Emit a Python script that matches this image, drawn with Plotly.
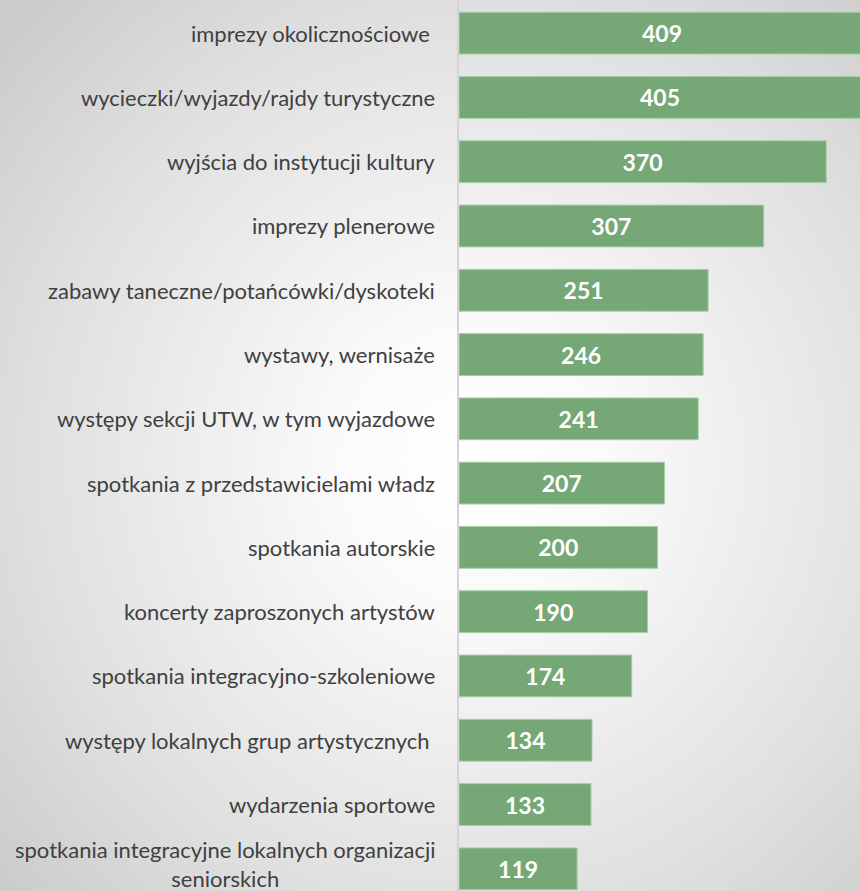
import base64
import plotly.graph_objects as go

# categories from top to bottom, as in the chart
categories = [
    "imprezy okolicznościowe\u00a0",
    "wycieczki/wyjazdy/rajdy turystyczne",
    "wyjścia do instytucji kultury",
    "imprezy plenerowe",
    "zabawy taneczne/potańcówki/dyskoteki",
    "wystawy, wernisaże",
    "występy sekcji UTW, w tym wyjazdowe",
    "spotkania z przedstawicielami władz",
    "spotkania autorskie",
    "koncerty zaproszonych artystów",
    "spotkania integracyjno-szkoleniowe",
    "występy lokalnych grup artystycznych\u00a0",
    "wydarzenia sportowe",
    "spotkania integracyjne lokalnych organizacji<br>seniorskich",
]
counts = [409, 405, 370, 307, 251, 246, 241, 207, 200, 190, 174, 134, 133, 119]

W, H = 860, 891
L, T = 459, 1

# radial grey gradient behind everything (Excel-style "from center" fill)
svg = f"""<svg xmlns='http://www.w3.org/2000/svg' width='{W}' height='{H}' preserveAspectRatio='none'>
<defs><radialGradient id='g' cx='0.55' cy='0.52' r='0.72'>
<stop offset='0' stop-color='#ffffff'/><stop offset='0.22' stop-color='#fafafa'/>
<stop offset='0.7' stop-color='#e0e0e0'/><stop offset='1' stop-color='#cccccc'/>
</radialGradient></defs>
<rect width='{W}' height='{H}' fill='url(#g)'/></svg>"""
bg = "data:image/svg+xml;base64," + base64.b64encode(svg.encode()).decode()

ys = categories[::-1]
vals = counts[::-1]

fig = go.Figure()
fig.add_trace(go.Bar(
    x=vals,
    y=ys,
    orientation="h",
    marker=dict(color="#75a876", line=dict(color="#a8cda8", width=1)),
    text=[str(v) for v in vals],
    textposition="inside",
    insidetextanchor="middle",
    textfont=dict(family="Lato", size=23, color="white", weight="bold"),
    hoverinfo="skip",
))

pw = W - L
ph = H - T
fig.add_layout_image(dict(
    source=bg, xref="paper", yref="paper",
    x=-L / pw, y=1 + T / ph, sizex=W / pw, sizey=H / ph,
    xanchor="left", yanchor="top", sizing="stretch", layer="below",
))

for c in categories:
    # two-line label sits at the very bottom edge, nudge it up a little
    fig.add_annotation(
        x=0, xref="paper", y=c, yref="y",
        text=c, showarrow=False, xanchor="right", yanchor="middle",
        xshift=-22, yshift=5 if "<br>" in c else 0, align="center",
        font=dict(family="Lato", size=22, color="#404040"),
    )

fig.update_layout(
    width=W, height=H,
    margin=dict(l=L, r=0, t=T, b=0),
    paper_bgcolor="rgba(0,0,0,0)",
    plot_bgcolor="rgba(0,0,0,0)",
    bargap=0.35,
    showlegend=False,
    xaxis=dict(range=[0, 404], visible=False, showgrid=False, zeroline=False),
    yaxis=dict(
        categoryorder="array", categoryarray=ys,
        range=[-0.345, 13.5],
        showticklabels=False, showgrid=False, zeroline=False,
        showline=True, linecolor="#d4d4d4", linewidth=1.5, ticks="",
    ),
)

fig.write_html("out.html", config={"displayModeBar": False},
               post_script="document.body.style.margin='0';")
